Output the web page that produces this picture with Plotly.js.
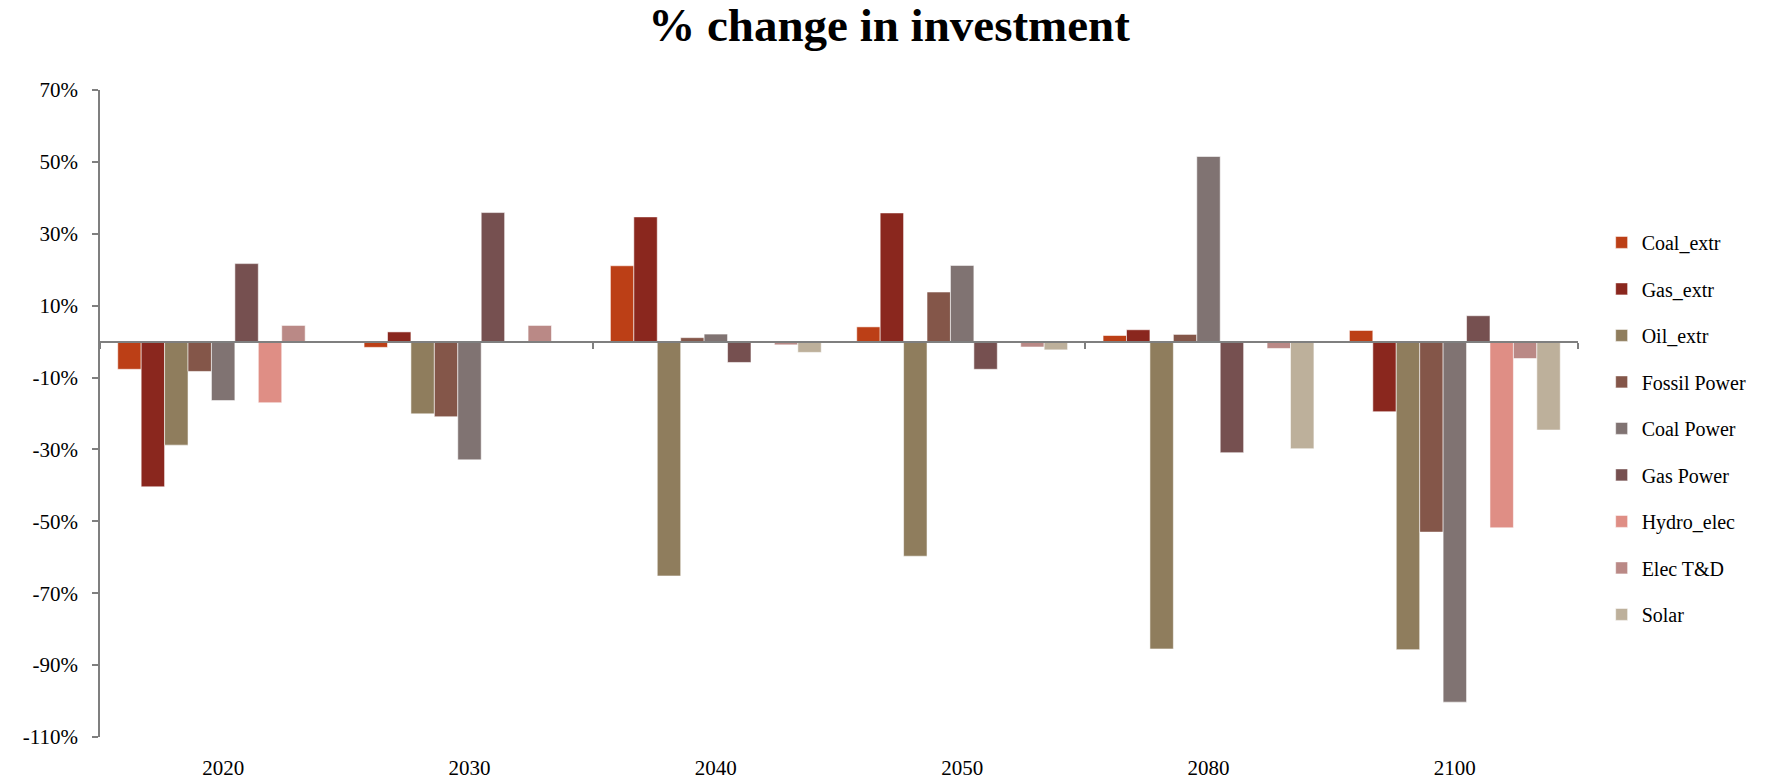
<!DOCTYPE html>
<html>
<head>
<meta charset="utf-8">
<script src="https://cdn.plot.ly/plotly-3.0.1.min.js"></script>
<style>
  html, body { margin: 0; padding: 0; background: #ffffff; }
  #chart { width: 1778px; height: 782px; }
</style>
</head>
<body>
<div id="chart"></div>
<script>
// ---- Data (values in %) ----
const years = ['2020', '2030', '2040', '2050', '2080', '2100'];

const coalExtr    = [-7.7,  -1.6,  21.1,   4.1,   1.7,    3.1];
const gasExtr     = [-40.4,  2.7,  34.7,  35.8,   3.3,  -19.5];
const oilExtr     = [-28.8, -20.1, -65.2, -59.7, -85.5,  -85.7];
const fossilPower = [-8.3,  -20.9,   1.1,  13.8,   2.0,  -53.0];
const coalPower   = [-16.4, -32.9,   2.1,  21.2,  51.5, -100.3];
const gasPower    = [21.7,   35.9,  -5.8,  -7.7, -30.9,    7.2];
const hydroElec   = [-17.0,   0,     0,     0,     0,    -51.8];
const elecTD      = [4.5,     4.5,  -0.9,  -1.5,  -1.9,   -4.7];
const solar       = [0,       0,    -3.0,  -2.3, -29.8,  -24.6];

const seriesNames = ['Coal_extr', 'Gas_extr', 'Oil_extr', 'Fossil Power', 'Coal Power',
                     'Gas Power', 'Hydro_elec', 'Elec T&D', 'Solar'];
const seriesValues = [coalExtr, gasExtr, oilExtr, fossilPower, coalPower,
                      gasPower, hydroElec, elecTD, solar];
const seriesColors = ['#BC3F16', '#8A271E', '#8F7D5D', '#845649', '#807372',
                      '#765050', '#DF8E85', '#BA8986', '#BDB09B'];

const yTickVals  = [70, 50, 30, 10, -10, -30, -50, -70, -90, -110];
const yTickText  = ['70%', '50%', '30%', '10%', '-10%', '-30%', '-50%', '-70%', '-90%', '-110%'];

// ---- Traces ----
const traces = seriesNames.map((name, i) => ({
  type: 'bar',
  name: name,
  x: years,
  y: seriesValues[i],
  legendgroup: 'g' + i,
  marker: { color: seriesColors[i], line: { color: 'rgba(255,255,255,0.55)', width: 1 } },
  hovertemplate: name + ' %{x}: %{y}%<extra></extra>'
}));

// invisible helper trace so the zero-crossing axis gets drawn
traces.push({
  type: 'scatter', mode: 'none',
  x: years.map((_, i) => i),
  y: years.map(() => null),
  xaxis: 'x2', yaxis: 'y',
  showlegend: false, hoverinfo: 'skip'
});

const yMin = -110, yMax = 70;
const axisGray = '#7F7F7F';
const fontFamily = '"Liberation Serif", "Times New Roman", serif';

const layout = {
  width: 1778, height: 782,
  paper_bgcolor: '#ffffff', plot_bgcolor: '#ffffff',
  font: { family: fontFamily, color: '#000000', size: 21 },
  margin: { l: 100, r: 200, t: 90, b: 45 },
  title: {
    text: '<b>% change in investment</b>',
    font: { family: fontFamily, size: 47, color: '#000000' },
    x: 0.5, xref: 'container', xanchor: 'center',
    y: 0.968, yref: 'container', yanchor: 'middle'
  },
  barmode: 'group',
  bargap: 0.144,
  bargroupgap: 0,
  showlegend: true,
  legend: {
    x: 1.016, xanchor: 'left',
    y: 0.477, yanchor: 'middle',
    font: { family: fontFamily, size: 20, color: '#000000' },
    tracegroupgap: 17.5,
    bgcolor: 'rgba(0,0,0,0)'
  },
  xaxis: {
    type: 'category',
    showline: false, showgrid: false, zeroline: false,
    ticks: '',
    tickfont: { family: fontFamily, size: 21, color: '#000000' },
    ticklabelstandoff: 16,
    fixedrange: true
  },
  xaxis2: {
    type: 'linear',
    overlaying: 'x',
    anchor: 'free',
    position: (0 - yMin) / (yMax - yMin),
    range: [-0.5, years.length - 0.5],
    showline: true, linecolor: axisGray, linewidth: 2,
    showgrid: false, zeroline: false,
    ticks: 'outside', ticklen: 6, tickwidth: 1.5, tickcolor: axisGray,
    tickmode: 'array', tickvals: [-0.5, 1.5, 3.5, 5.5],
    showticklabels: false,
    fixedrange: true
  },
  yaxis: {
    range: [yMin, yMax],
    showline: true, linecolor: axisGray, linewidth: 1.5,
    showgrid: false, zeroline: false,
    ticks: 'outside', ticklen: 6, tickwidth: 1.5, tickcolor: axisGray,
    tickmode: 'array', tickvals: yTickVals, ticktext: yTickText,
    tickfont: { family: fontFamily, size: 21, color: '#000000' },
    ticklabelstandoff: 10,
    fixedrange: true
  }
};

Plotly.newPlot('chart', traces, layout, { displayModeBar: false, staticPlot: false });
</script>
</body>
</html>
